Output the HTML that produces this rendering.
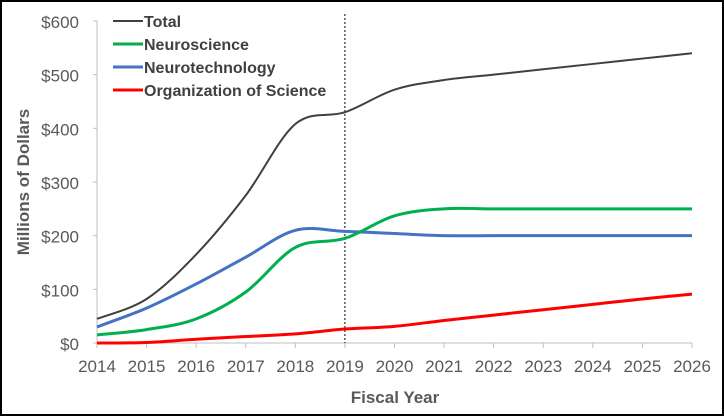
<!DOCTYPE html>
<html><head><meta charset="utf-8"><style>
body{margin:0;background:#fff}
svg{display:block;font-family:"Liberation Sans",sans-serif}
</style></head><body>
<svg id="c" width="724" height="416">
<rect x="1" y="1" width="722" height="414" fill="#fff" stroke="#000" stroke-width="2"/>
</svg>
<script>
const years=[2014,2015,2016,2017,2018,2019,2020,2021,2022,2023,2024,2025,2026];
const yTicks=[0,100,200,300,400,500,600];
const totalVals=[45,82,165,275,408,430,472,490,500,510,520,530,540];
const neuroscienceVals=[15,25,45,95,178,195,237,250,250,250,250,250,250];
const neurotechVals=[30,65,110,160,210,208,204,200,200,200,200,200,200];
const orgVals=[0,1,7,12,17,26,31,42,52,62,72,82,91];
const seriesNames=["Total","Neuroscience","Neurotechnology","Organization of Science"];
const seriesColors=["#404040","#00b050","#4472c4","#ff0000"];
const seriesData=[totalVals,neuroscienceVals,neurotechVals,orgVals];
const markerYear=2019;

const svg=document.getElementById('c');
const NS='http://www.w3.org/2000/svg';
const X0=97,X1=692,Y0=343,Y1=21;
const xs=y=>X0+(y-years[0])/(years[years.length-1]-years[0])*(X1-X0);
const ys=v=>Y0-v/600*(Y0-Y1);
function mk(t,a,p){const e=document.createElementNS(NS,t);for(const k in a)e.setAttribute(k,a[k]);(p||svg).appendChild(e);return e;}

// y axis
const ya=mk('line',{x1:X0,y1:Y1,x2:X0,y2:Y0,stroke:'#bfbfbf','stroke-width':1});


yTicks.forEach(v=>{
  const tk=mk('line',{x1:X0-4,y1:ys(v),x2:X0,y2:ys(v),stroke:'#bfbfbf'});
  
  
  const t=mk('text',{x:X0-18,y:ys(v)+7,'text-anchor':'end','font-size':17,fill:'#595959'});
  t.textContent='$'+v;
  
  
});
// x axis
const xa=mk('line',{x1:X0,y1:Y0,x2:X1,y2:Y0,stroke:'#bfbfbf'});


years.forEach(y=>{
  const tk=mk('line',{x1:xs(y),y1:Y0,x2:xs(y),y2:Y0+5,stroke:'#bfbfbf'});
  
  
  const t=mk('text',{x:xs(y),y:Y0+29,'text-anchor':'middle','font-size':17,fill:'#595959'});
  t.textContent=y;
  
  
});
// marker line
const ml=mk('line',{x1:xs(markerYear),y1:14,x2:xs(markerYear),y2:Y0,stroke:'#000','stroke-width':1,'stroke-dasharray':'2,2'});


// series
function path(vals){
  const p=vals.map((v,i)=>[xs(years[i]),ys(v)]);
  let d='M'+p[0][0]+','+p[0][1];
  for(let i=0;i<p.length-1;i++){
    const a=p[i-1]||p[i],b=p[i],c=p[i+1],e=p[i+2]||c;
    const c1=[b[0]+(c[0]-a[0])/6,b[1]+(c[1]-a[1])/6];
    const c2=[c[0]-(e[0]-b[0])/6,c[1]-(e[1]-b[1])/6];
    d+=' C'+c1+' '+c2+' '+c;
  }
  return d;
}
[3,2,1,0].forEach(i=>{
  const l=mk('path',{d:path(seriesData[i]),fill:'none',stroke:seriesColors[i],'stroke-width':i==0?2:3});
  
  
});
// legend
seriesNames.forEach((n,i)=>{
  const y=21+i*23;
  const g=mk('g',{});
  
  
  mk('line',{x1:113,y1:y,x2:143,y2:y,stroke:seriesColors[i],'stroke-width':i==0?2:3},g);
  const t=mk('text',{x:144,y:y+6,'font-size':16,'font-weight':'bold',fill:'#404040'},g);
  t.textContent=n;
});
// titles
const yt=mk('text',{x:0,y:0,transform:'translate(29,182) rotate(-90)','text-anchor':'middle','font-size':17,'font-weight':'bold',fill:'#595959'});
yt.textContent='Millions of Dollars';


const xt=mk('text',{x:395,y:403,'text-anchor':'middle','font-size':17,'font-weight':'bold',fill:'#595959'});
xt.textContent='Fiscal Year';


</script>
</body></html>
